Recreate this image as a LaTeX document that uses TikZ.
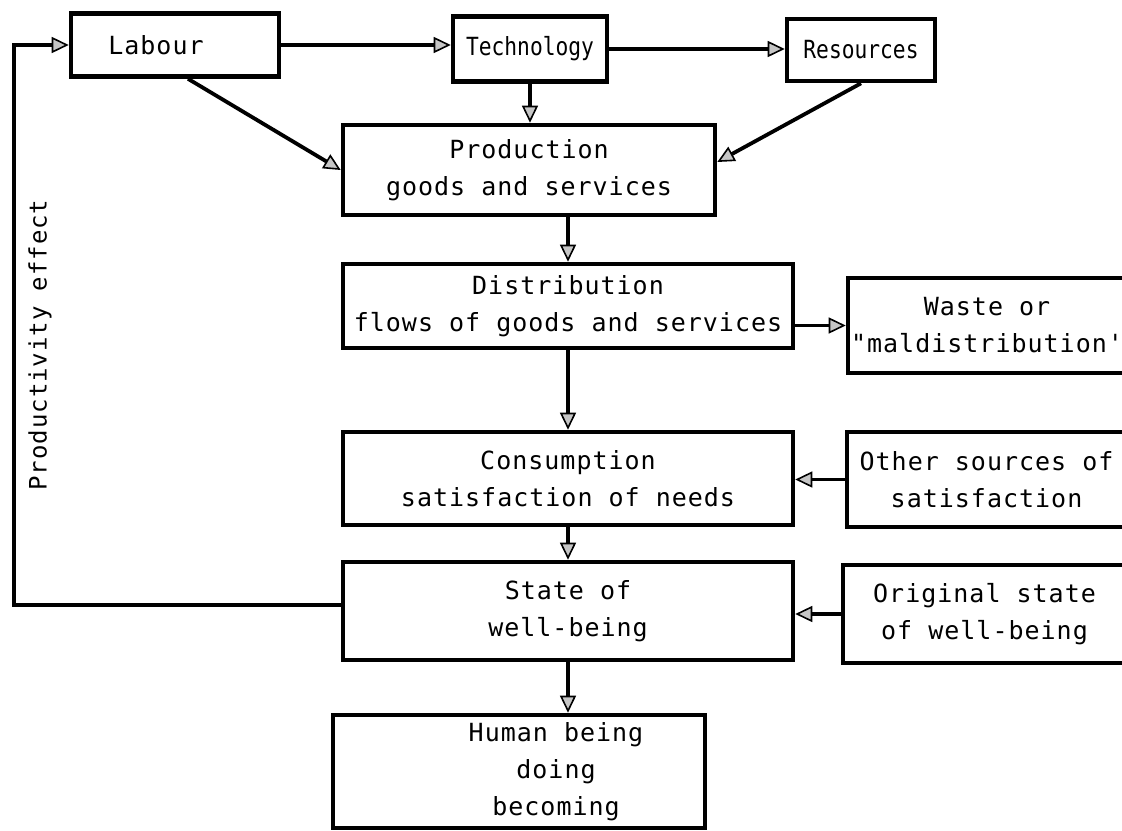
\documentclass[tikz,border=0pt]{standalone}
\usepackage{fontspec}
\setmonofont{DejaVu Sans Mono}[LetterSpace=4]
\newfontfamily\tightfont{DejaVu Sans Mono}[Ligatures=ResetAll, FakeStretch=0.85]
\usepackage{tikz}
\usetikzlibrary{arrows.meta}

\begin{document}
\begin{tikzpicture}[x=0.5pt, y=-0.5pt,
    box/.style={draw, line width=2.3pt, align=center, inner sep=0pt,
        font=\ttfamily\fontsize{12.5}{18.5}\selectfont},
    topbox/.style={box, font=\tightfont\fontsize{12.5}{18.5}\selectfont},
    arr/.style={line width=1.9pt, -{Triangle[length=8.5pt, width=8pt, fill=gray!45, line width=0.8pt]}}]
    \useasboundingbox (0,0) rectangle (1122,830);
    \node[box, minimum width=104pt, minimum height=31.5pt] (labour) at (175,45) {Labour\hspace*{19pt}};
    \node[topbox, minimum width=77pt, minimum height=32.5pt] (tech) at (530,49) {Technology};
    \node[topbox, minimum width=74pt, minimum height=31pt] (res) at (861,50) {Resources};
    \node[box, minimum width=186pt, minimum height=45pt] (prod) at (529,170) {Production\\goods and services};
    \node[box, minimum width=225pt, minimum height=42pt] (dist) at (568,306) {Distribution\\flows of goods and services};
    \node[box, minimum width=139pt, minimum height=47.5pt] (waste) at (987,325.5) {Waste or\\"maldistribution'};
    \node[box, minimum width=225pt, minimum height=46.5pt] (cons) at (568,478.5) {Consumption\\satisfaction of needs};
    \node[box, minimum width=139.5pt, minimum height=47.5pt] (other) at (986.5,479.5) {Other sources of\\satisfaction};
    \node[box, minimum width=225pt, minimum height=49pt] (state) at (568,611) {State of\\well-being};
    \node[box, minimum width=141.5pt, minimum height=49pt] (orig) at (984.5,614) {Original state\\of well-being};
    \node[box, minimum width=186pt, minimum height=56.5pt] (human) at (519,771.5)
        {\hspace*{37pt}Human being\\\hspace*{37pt}doing\\\hspace*{37pt}becoming};
    \node[font=\ttfamily\fontsize{12}{13}\selectfont, rotate=90] (prodeff) at (40,345) {Productivity effect};
    \coordinate (fb) at (14,605);
    \draw[arr] (labour.east) -- (labour.east -| tech.west);
    \draw[arr] (tech.east) -- (tech.east -| res.west);
    \draw[arr] (tech.south) -- (tech.south |- prod.north);
    \draw[arr] ([xshift=6.5pt]labour.south) -- (prod.west);
    \draw[arr] (res.south) -- ([yshift=4pt]prod.east);
    \draw[arr] (prod.south -| dist.north) -- (dist.north);
    \draw[arr] (dist.south) -- (cons.north);
    \draw[arr] (cons.south) -- (state.north);
    \draw[arr] (state.south) -- (state.south |- human.north);
    \draw[arr] (dist.east |- waste.west) -- (waste.west);
    \draw[arr] (other.west) -- (other.west -| cons.east);
    \draw[arr] (orig.west) -- (orig.west -| state.east);
    \draw[arr] (state.west |- fb) -- (fb) |- (labour.west);
\end{tikzpicture}
\end{document}
